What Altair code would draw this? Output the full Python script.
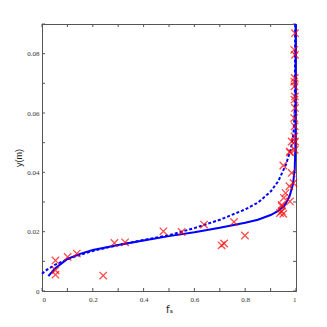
import altair as alt
import pandas as pd

# measured points (red crosses)
pts_x = [0.053, 0.053, 0.053, 0.101, 0.137, 0.241, 0.285, 0.327, 0.478, 0.550, 0.638,
         0.707, 0.717, 0.756, 0.799, 0.937, 0.950, 0.944, 0.944, 0.944, 0.952, 0.959,
         0.976, 0.974, 0.990, 0.983, 0.950, 0.976, 0.983, 0.976,
         0.996, 0.993, 0.996, 0.995, 0.993, 0.996, 0.994, 0.996, 0.993, 0.995, 0.994,
         0.996, 0.995, 0.994]
pts_y = [0.0103, 0.0070, 0.0055, 0.0115, 0.0126, 0.0052, 0.0162, 0.0164, 0.0201, 0.0199, 0.0224,
         0.0154, 0.0160, 0.0233, 0.0187, 0.0263, 0.0260, 0.0286, 0.0269, 0.0290, 0.0314, 0.0330,
         0.0302, 0.0353, 0.0364, 0.0398, 0.0423, 0.0467, 0.0504, 0.0470,
         0.0869, 0.0813, 0.0796, 0.0718, 0.0706, 0.0656, 0.0645, 0.0617, 0.0583, 0.0555, 0.0521,
         0.0504, 0.0476, 0.0690]

# model curves
solid_x = [0.025, 0.05, 0.1, 0.15, 0.2, 0.3, 0.4, 0.5, 0.6, 0.7, 0.8, 0.85, 0.9, 0.93,
           0.955, 0.975, 0.988, 0.995, 0.998, 0.999]
solid_y = [0.005, 0.0075, 0.0108, 0.0125, 0.0138, 0.0155, 0.017, 0.0185, 0.0198, 0.0213,
           0.023, 0.024, 0.0256, 0.027, 0.0288, 0.032, 0.036, 0.041, 0.05, 0.09]
dash_x = [0.0, 0.02, 0.05, 0.1, 0.15, 0.2, 0.3, 0.4, 0.5, 0.6, 0.7, 0.8, 0.85, 0.9, 0.93,
          0.96, 0.98, 0.99, 0.995, 0.997]
dash_y = [0.0058, 0.0072, 0.0088, 0.0107, 0.0122, 0.0135, 0.0155, 0.0172, 0.0188, 0.0212,
          0.024, 0.0275, 0.0298, 0.0335, 0.037, 0.0425, 0.048, 0.053, 0.06, 0.09]

x_ticks = [0, 0.1, 0.2, 0.3, 0.4, 0.5, 0.6, 0.7, 0.8, 0.9, 1]
y_ticks = [0, 0.01, 0.02, 0.03, 0.04, 0.05, 0.06, 0.07, 0.08, 0.09]

W, H = 254, 267

df_pts = pd.DataFrame({"x": pts_x, "y": pts_y})
df_solid = pd.DataFrame({"x": solid_x, "y": solid_y, "i": range(len(solid_x))})
df_dash = pd.DataFrame({"x": dash_x, "y": dash_y, "i": range(len(dash_x))})
df_xt = pd.DataFrame({"t": x_ticks})
df_yt = pd.DataFrame({"t": y_ticks})

xs = alt.Scale(domain=[0, 1], nice=False, zero=False)
ys = alt.Scale(domain=[0, 0.09], nice=False, zero=False)

xax = alt.Axis(values=x_ticks, title="fₛ",
               labelExpr="datum.value == 0 ? '0' : datum.value == 1 ? '1' : format(datum.value, '.1f')",
               grid=False, ticks=False, labelPadding=4, labelFontSize=7, titleFontSize=10,
               titleFontWeight="normal", titleFont="DejaVu Sans",
               labelColor="#333", titleColor="#222", domainColor="#555", titlePadding=2)
yax = alt.Axis(values=y_ticks, title="y(m)",
               labelExpr="datum.value == 0 ? '0' : format(datum.value, '.2f')",
               grid=False, ticks=False, labelPadding=3, labelFontSize=7, titleFontSize=9,
               titleFontWeight="normal",
               labelColor="#333", titleColor="#222", domainColor="#555", titlePadding=3)

cross = "M-1,-1L1,1M-1,1L1,-1"

points = alt.Chart(df_pts).mark_point(shape=cross, size=55, color="#ff0000", strokeWidth=1.3, filled=False).encode(
    x=alt.X("x:Q", scale=xs, axis=xax), y=alt.Y("y:Q", scale=ys, axis=yax))

solid = alt.Chart(df_solid).mark_line(color="#0000ff", strokeWidth=2).encode(
    x=alt.X("x:Q", scale=xs), y=alt.Y("y:Q", scale=ys), order="i:Q")

dashed = alt.Chart(df_dash).mark_line(color="#0000ff", strokeWidth=2, strokeDash=[3, 2]).encode(
    x=alt.X("x:Q", scale=xs), y=alt.Y("y:Q", scale=ys), order="i:Q")

tick_col = "#555"
xt_bottom = alt.Chart(df_xt).mark_rule(color=tick_col, strokeWidth=1).encode(
    x=alt.X("t:Q", scale=xs), y=alt.value(H), y2=alt.value(H - 3))
xt_top = alt.Chart(df_xt).mark_rule(color=tick_col, strokeWidth=1).encode(
    x=alt.X("t:Q", scale=xs), y=alt.value(0), y2=alt.value(3))
yt_left = alt.Chart(df_yt).mark_rule(color=tick_col, strokeWidth=1).encode(
    y=alt.Y("t:Q", scale=ys), x=alt.value(0), x2=alt.value(3))
yt_right = alt.Chart(df_yt).mark_rule(color=tick_col, strokeWidth=1).encode(
    y=alt.Y("t:Q", scale=ys), x=alt.value(W), x2=alt.value(W - 3))

chart = alt.layer(xt_bottom, xt_top, yt_left, yt_right, dashed, solid, points).properties(
    width=W, height=H, autosize=alt.AutoSizeParams(type="none"),
    padding={"left": 34, "top": 16, "right": 20, "bottom": 30}
).configure_view(stroke="#555", strokeWidth=1).configure_axis(labelFont="Liberation Sans Narrow", titleFont="Liberation Sans")

chart.save("out.html", embed_options={"renderer": "svg", "actions": False})
